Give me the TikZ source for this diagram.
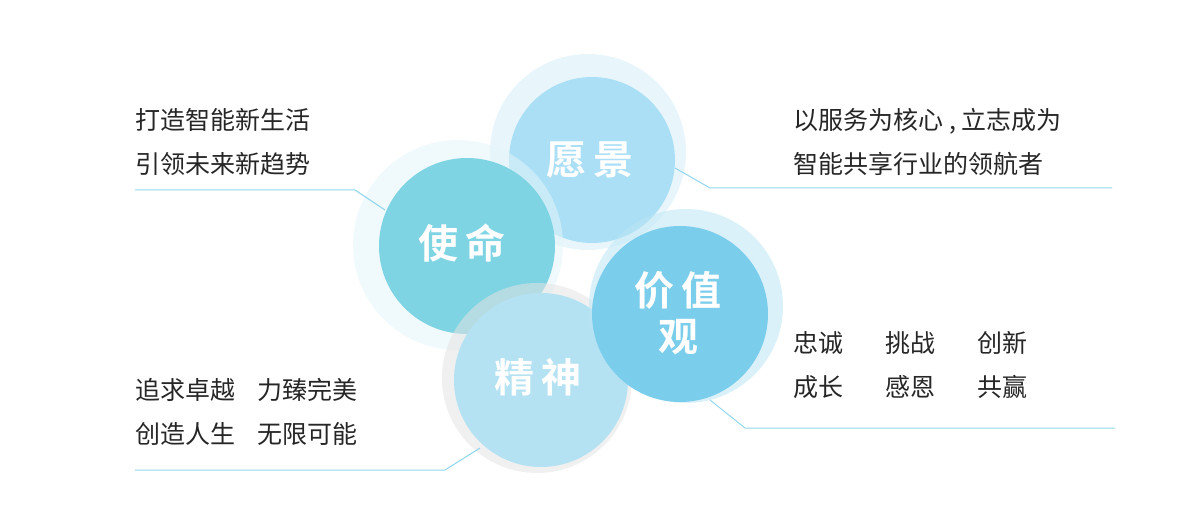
\documentclass[tikz,border=0pt]{standalone}
\usepackage{fontspec}
\newfontfamily\cjk{Noto Sans CJK SC}
\newfontfamily\cjkb{Noto Sans CJK SC Bold}
\definecolor{cyj}{HTML}{ABDFF6}
\definecolor{csm}{HTML}{7FD4E4}
\definecolor{cjs}{HTML}{B5E2F3}
\definecolor{cjz}{HTML}{7BCDEC}
\definecolor{cln}{HTML}{8FD6EC}
\begin{document}
\begin{tikzpicture}[x=1pt,y=-1pt,
  halo/.style={fill=#1,opacity=0.55},
  core/.style={fill=#1,draw=none},
  ttl/.style={text=white,font=\cjkb\fontsize{40}{46}\selectfont,align=center},
  txt/.style={font=\cjk\fontsize{25}{44}\selectfont,anchor=west,align=left,text=black!85},
  ln/.style={draw=cln,line width=1pt}]
\useasboundingbox (0,0) rectangle (1200,529);
% 愿景
\fill[halo={cyj!50}] (588,152) circle (98);
\fill[core=cyj] (592,160) circle (83);
\node[ttl] (yj) at (590,160) {愿\,景};
% 使命
\fill[halo={csm!22}] (458,245) circle (105);
\fill[core=csm] (467,246) circle (88);
\node[ttl] (sm) at (462,243) {使\,命};
% 精神
\fill[halo={gray!22}] (537,378) circle (95);
\fill[core=cjs] (541,380) circle (87);
\node[ttl] (js) at (538,377) {精\,神};
% 价值观
\fill[halo={cjz!50}] (686,306) circle (97);
\fill[core=cjz] (680,314) circle (88);
\node[ttl] (jz) at (678,313) {价\,值\\观};
% texts
\node[txt] (t1) at (132,142) {打造智能新生活\\引领未来新趋势};
\node[txt] (t2) at (790,142) {以服务为核心 , 立志成为\\智能共享行业的领航者};
\node[txt] (t3) at (132,412) {追求卓越\hspace{22pt}力臻完美\\创造人生\hspace{22pt}无限可能};
\node[txt] (t4) at (790,365) {忠诚\hspace{42pt}挑战\hspace{42pt}创新\\成长\hspace{42pt}感恩\hspace{42pt}共赢};
% lines
\coordinate (a1) at (135,190); \coordinate (a2) at (355,190); \coordinate (a3) at (385,210);
\draw[ln] (a1)--(a2)--(a3);
\coordinate (b1) at (675,168); \coordinate (b2) at (710,188); \coordinate (b3) at (1112,188);
\draw[ln] (b1)--(b2)--(b3);
\coordinate (c1) at (710,400); \coordinate (c2) at (745,428); \coordinate (c3) at (1115,428);
\draw[ln] (c1)--(c2)--(c3);
\coordinate (d1) at (135,470); \coordinate (d2) at (445,470); \coordinate (d3) at (480,448);
\draw[ln] (d1)--(d2)--(d3);
\end{tikzpicture}
\end{document}
